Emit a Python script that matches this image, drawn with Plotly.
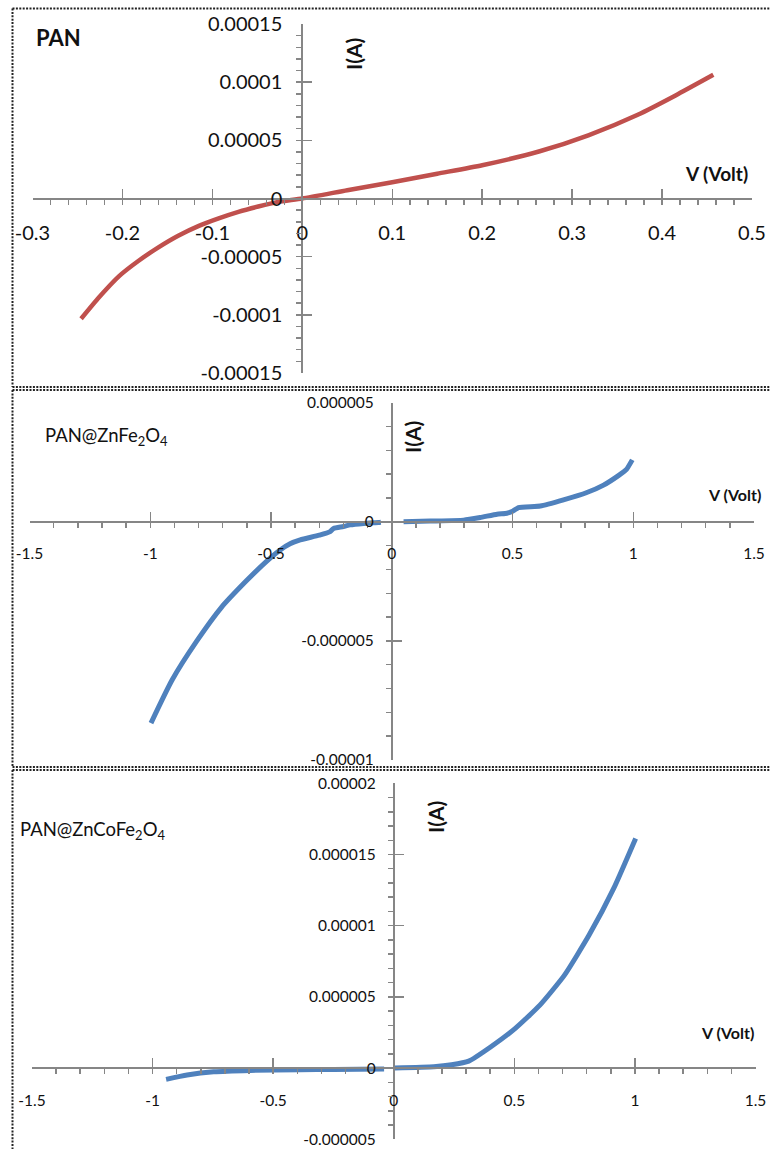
import plotly.graph_objects as go

W, H = 770, 1149

# ---------------- data ----------------
# Panel 1: PAN
pan_v = [-0.246, -0.226, -0.204, -0.182, -0.160, -0.138, -0.115, -0.093, -0.071, -0.049, -0.027, 0.0,
         0.05, 0.10, 0.15, 0.20, 0.264, 0.318, 0.373, 0.415, 0.457]
pan_i = [-1.034e-4, -8.49e-5, -6.69e-5, -5.35e-5, -4.2e-5, -3.2e-5, -2.35e-5, -1.71e-5, -1.15e-5, -6.9e-6, -2.9e-6, 0.0,
         7.1e-6, 1.40e-5, 2.13e-5, 2.86e-5, 4.06e-5, 5.43e-5, 7.2e-5, 8.86e-5, 1.063e-4]

# Panel 2: PAN@ZnFe2O4
znfe_neg_v = [-0.997, -0.909, -0.807, -0.706, -0.604, -0.523, -0.462, -0.421, -0.379, -0.30,
              -0.255, -0.241, -0.200, -0.172, -0.116, -0.055, -0.045]
znfe_neg_i = [-8.45e-6, -6.63e-6, -5.0e-6, -3.6e-6, -2.5e-6, -1.7e-6, -1.18e-6, -9.2e-7, -7.6e-7, -5.6e-7,
              -4.1e-7, -2.8e-7, -2.0e-7, -1.3e-7, -7e-8, -3e-8, -2e-8]
znfe_pos_v = [0.049, 0.159, 0.297, 0.366, 0.436, 0.477, 0.498, 0.525, 0.615, 0.711,
              0.808, 0.877, 0.940, 0.972, 0.996]
znfe_pos_i = [0.0, 3e-8, 7e-8, 1.8e-7, 3.2e-7, 3.6e-7, 4.3e-7, 6.0e-7, 6.6e-7, 9.2e-7,
              1.23e-6, 1.54e-6, 1.95e-6, 2.2e-6, 2.6e-6]

# Panel 3: PAN@ZnCoFe2O4
znco_neg_v = [-0.944, -0.857, -0.747, -0.595, -0.39, -0.25, -0.04]
znco_neg_i = [-7.9e-7, -4.9e-7, -2.6e-7, -1.6e-7, -1.2e-7, -9e-8, -7e-8]
znco_pos_v = [0.003, 0.166, 0.240, 0.311, 0.403, 0.504, 0.606, 0.708, 0.810, 0.912, 1.003]
znco_pos_i = [0.0, 9e-8, 2.3e-7, 4.9e-7, 1.5e-6, 2.79e-6, 4.42e-6, 6.53e-6, 9.34e-6, 1.262e-5, 1.613e-5]

# ticks
p1_xvals = [-0.3, -0.2, -0.1, 0, 0.1, 0.2, 0.3, 0.4, 0.5]
p1_xtext = ["-0.3", "-0.2", "-0.1", "0", "0.1", "0.2", "0.3", "0.4", "0.5"]
p1_yvals = [-0.00015, -0.0001, -0.00005, 0, 0.00005, 0.0001, 0.00015]
p1_ytext = ["-0.00015", "-0.0001", "-0.00005", "0", "0.00005", "0.0001", "0.00015"]

p23_xvals = [-1.5, -1, -0.5, 0, 0.5, 1, 1.5]
p23_xtext = ["-1.5", "-1", "-0.5", "0", "0.5", "1", "1.5"]

p2_yvals = [-0.00001, -0.000005, 0, 0.000005]
p2_ytext = ["-0.00001", "-0.000005", "0", "0.000005"]

p3_yvals = [-0.000005, 0, 0.000005, 0.00001, 0.000015, 0.00002]
p3_ytext = ["-0.000005", "0", "0.000005", "0.00001", "0.000015", "0.00002"]

# ---------------- styling ----------------
FONT = "Lato, 'Liberation Sans', Arial, sans-serif"
AX = "#868686"
TXT = "#111111"
RED = "#C0504D"
BLUE = "#4F81BD"


def fx(px):
    return px / W


def fy(py):
    return 1 - py / H


def make_axes(xpx, ypx, xrange_, yrange_, xvals, xtext, yvals, ytext, xminor, yminor, fs, xstand, ystand):
    xd = [fx(xpx[0]), fx(xpx[1])]
    yd = [fy(ypx[1]), fy(ypx[0])]
    fx0 = (0 - xrange_[0]) / (xrange_[1] - xrange_[0])
    fy0 = (0 - yrange_[0]) / (yrange_[1] - yrange_[0])
    xpos = yd[0] + (yd[1] - yd[0]) * fy0
    ypos = xd[0] + (xd[1] - xd[0]) * fx0
    common = dict(showline=True, linecolor=AX, linewidth=2, showgrid=False, zeroline=False,
                  ticks="inside", ticklen=9, tickwidth=1.5, tickcolor=AX, tickmode="array",
                  tickfont=dict(family=FONT, size=fs, color=TXT), anchor="free",
                  automargin=False, fixedrange=True)
    xa = dict(common, domain=xd, range=xrange_, position=xpos, tickvals=xvals, ticktext=xtext,
              ticklabelstandoff=xstand,
              minor=dict(dtick=xminor, tick0=0, ticks="outside", ticklen=5, tickwidth=1.5,
                         tickcolor=AX, showgrid=False))
    ya = dict(common, domain=yd, range=yrange_, position=ypos, tickvals=yvals, ticktext=ytext,
              ticklabelstandoff=ystand,
              minor=dict(dtick=yminor, tick0=0, ticks="outside", ticklen=5, tickwidth=1.5,
                         tickcolor=AX, showgrid=False))
    return xa, ya


fig = go.Figure()

line_kw = dict(mode="lines", showlegend=False, hoverinfo="skip")
fig.add_trace(go.Scatter(x=pan_v, y=pan_i, xaxis="x", yaxis="y",
                         line=dict(color=RED, width=4.5, shape="spline", smoothing=0.6), **line_kw))
fig.add_trace(go.Scatter(x=znfe_neg_v, y=znfe_neg_i, xaxis="x2", yaxis="y2",
                         line=dict(color=BLUE, width=5, shape="spline", smoothing=0.6), **line_kw))
fig.add_trace(go.Scatter(x=znfe_pos_v, y=znfe_pos_i, xaxis="x2", yaxis="y2",
                         line=dict(color=BLUE, width=5, shape="spline", smoothing=0.4), **line_kw))
fig.add_trace(go.Scatter(x=znco_neg_v, y=znco_neg_i, xaxis="x3", yaxis="y3",
                         line=dict(color=BLUE, width=5, shape="spline", smoothing=0.5), **line_kw))
fig.add_trace(go.Scatter(x=znco_pos_v, y=znco_pos_i, xaxis="x3", yaxis="y3",
                         line=dict(color=BLUE, width=5, shape="spline", smoothing=0.5), **line_kw))

x1, y1 = make_axes((32.5, 752), (24, 373), [-0.3, 0.5], [-0.00015, 0.00015],
                   p1_xvals, p1_xtext, p1_yvals, p1_ytext, 0.02, 0.00001, 20, 16, 15)
x2, y2 = make_axes((29.5, 754), (402.7, 760), [-1.5, 1.5], [-0.00001, 0.000005],
                   p23_xvals, p23_xtext, p2_yvals, p2_ytext, 0.1, 0.000001, 15.5, 18, 14)
x3, y3 = make_axes((32, 755.5), (783.3, 1139.3), [-1.5, 1.5], [-0.000005, 0.00002],
                   p23_xvals, p23_xtext, p3_yvals, p3_ytext, 0.1, 0.000001, 15.5, 18, 14)

shapes = []
DOT = dict(color="#222222", width=2, dash="2px,1.4px")


def hline(py, x0=12.5, x1=770):
    shapes.append(dict(type="line", xref="paper", yref="paper", x0=fx(x0), x1=fx(x1),
                       y0=fy(py), y1=fy(py), line=DOT))


def vline(px, py0, py1):
    shapes.append(dict(type="line", xref="paper", yref="paper", x0=fx(px), x1=fx(px),
                       y0=fy(py0), y1=fy(py1), line=DOT))


hline(8.5)
vline(12.5, 8.5, 387)
hline(387)
hline(390)
vline(12.5, 390, 767)
hline(767)
hline(770)
vline(12.5, 770, 1149)

annotations = []


def label(text, px, py, size, bold=True, angle=0, xanchor="center"):
    t = f"<b>{text}</b>" if bold else text
    annotations.append(dict(text=t, x=fx(px), y=fy(py), xref="paper", yref="paper",
                            showarrow=False, textangle=angle, xanchor=xanchor, yanchor="middle",
                            font=dict(family=FONT, size=size, color=TXT)))


label("PAN", 58, 37, 22)
label("I(A)", 353, 54, 21, angle=-90)
label("V (Volt)", 716, 173, 19)

label("PAN@ZnFe<sub>2</sub>O<sub>4</sub>", 43, 437, 18.5, bold=False, xanchor="left")
label("I(A)", 413, 437, 21, angle=-90)
label("V (Volt)", 734, 494, 16)

label("PAN@ZnCoFe<sub>2</sub>O<sub>4</sub>", 18, 831, 18.5, bold=False, xanchor="left")
label("I(A)", 435, 817, 21, angle=-90)
label("V (Volt)", 727, 1032, 16)

fig.update_layout(
    width=W, height=H,
    margin=dict(l=0, r=0, t=0, b=0, autoexpand=False),
    paper_bgcolor="white", plot_bgcolor="rgba(0,0,0,0)",
    xaxis=x1, yaxis=y1, xaxis2=x2, yaxis2=y2, xaxis3=x3, yaxis3=y3,
    shapes=shapes, annotations=annotations,
    showlegend=False,
)

fig.write_html(
    "out.html",
    config={"displayModeBar": False, "staticPlot": True},
    post_script="document.body.style.margin='0';document.body.style.padding='0';"
                "document.body.style.overflow='hidden';",
)
